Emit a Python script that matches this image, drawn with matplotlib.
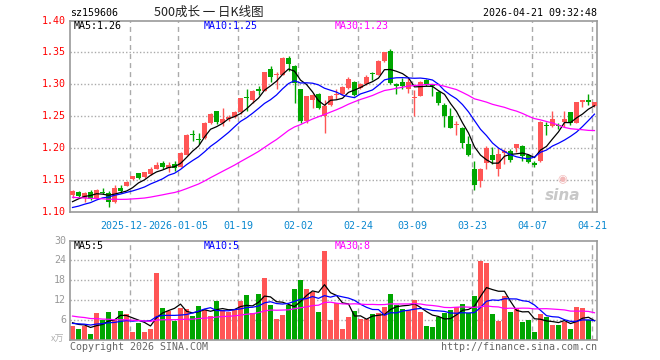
import numpy as np
import pandas as pd
import matplotlib
matplotlib.use('Agg')
import matplotlib.pyplot as plt

# trading days shown (holidays removed)
holidays = ['2026-01-01', '2026-01-02', '2026-02-16', '2026-02-17', '2026-02-18',
            '2026-02-19', '2026-02-20', '2026-02-23', '2026-04-06']
dates = pd.bdate_range('2025-12-08', '2026-04-21')
dates = dates[~dates.isin(pd.to_datetime(holidays))]

tick_dates = ['2025-12-22', '2026-01-05', '2026-01-19', '2026-02-02', '2026-02-24',
              '2026-03-09', '2026-03-23', '2026-04-07', '2026-04-21']
tick_labels = ['2025-12-22', '2026-01-05', '01-19', '02-02', '02-24',
               '03-09', '03-23', '04-07', '04-21']

opens = [1.126, 1.132, 1.122, 1.132, 1.122, 1.131, 1.129, 1.115, 1.137, 1.141,
         1.151, 1.161, 1.155, 1.159, 1.168, 1.176, 1.169, 1.175, 1.171, 1.190,
         1.221, 1.214, 1.216, 1.239, 1.259, 1.240, 1.245, 1.249, 1.256, 1.279,
         1.276, 1.293, 1.290, 1.324, 1.314, 1.315, 1.342, 1.329, 1.292, 1.242,
         1.276, 1.285, 1.251, 1.268, 1.284, 1.285, 1.294, 1.304, 1.294, 1.300,
         1.317, 1.315, 1.336, 1.352, 1.301, 1.304, 1.292, 1.278, 1.282, 1.307,
         1.298, 1.288, 1.268, 1.251, 1.237, 1.232, 1.207, 1.168, 1.149, 1.176,
         1.190, 1.167, 1.193, 1.196, 1.200, 1.204, 1.190, 1.177, 1.180, 1.236,
         1.234, 1.235, 1.241, 1.256, 1.240, 1.272, 1.276, 1.266]
closes = [1.133, 1.125, 1.129, 1.121, 1.135, 1.130, 1.116, 1.138, 1.133, 1.147,
          1.156, 1.154, 1.162, 1.168, 1.174, 1.171, 1.173, 1.169, 1.193, 1.221,
          1.220, 1.213, 1.240, 1.254, 1.241, 1.246, 1.249, 1.257, 1.278, 1.278,
          1.290, 1.289, 1.319, 1.312, 1.315, 1.342, 1.332, 1.302, 1.242, 1.281,
          1.284, 1.263, 1.266, 1.281, 1.285, 1.296, 1.309, 1.284, 1.301, 1.311,
          1.316, 1.337, 1.350, 1.302, 1.297, 1.298, 1.304, 1.279, 1.304, 1.300,
          1.297, 1.270, 1.251, 1.232, 1.238, 1.208, 1.190, 1.142, 1.168, 1.201,
          1.181, 1.191, 1.196, 1.182, 1.206, 1.187, 1.178, 1.173, 1.241, 1.235,
          1.245, 1.234, 1.246, 1.240, 1.272, 1.275, 1.273, 1.272]
highs = [1.135, 1.133, 1.131, 1.135, 1.136, 1.138, 1.133, 1.143, 1.142, 1.148,
         1.157, 1.161, 1.163, 1.170, 1.178, 1.180, 1.178, 1.180, 1.194, 1.222,
         1.228, 1.224, 1.241, 1.255, 1.259, 1.263, 1.252, 1.259, 1.279, 1.293,
         1.291, 1.298, 1.320, 1.328, 1.320, 1.343, 1.345, 1.330, 1.293, 1.282,
         1.285, 1.286, 1.276, 1.283, 1.292, 1.297, 1.312, 1.305, 1.302, 1.315,
         1.319, 1.338, 1.351, 1.355, 1.302, 1.310, 1.310, 1.291, 1.305, 1.309,
         1.301, 1.290, 1.270, 1.263, 1.243, 1.233, 1.219, 1.180, 1.169, 1.203,
         1.202, 1.200, 1.199, 1.199, 1.207, 1.205, 1.191, 1.180, 1.242, 1.241,
         1.258, 1.240, 1.258, 1.257, 1.273, 1.276, 1.285, 1.273]
lows = [1.122, 1.124, 1.116, 1.119, 1.121, 1.128, 1.108, 1.114, 1.130, 1.140,
        1.150, 1.152, 1.154, 1.158, 1.167, 1.167, 1.163, 1.165, 1.170, 1.189,
        1.212, 1.207, 1.215, 1.238, 1.238, 1.234, 1.243, 1.247, 1.254, 1.258,
        1.270, 1.284, 1.289, 1.303, 1.293, 1.314, 1.321, 1.270, 1.240, 1.240,
        1.263, 1.262, 1.223, 1.266, 1.277, 1.284, 1.293, 1.282, 1.292, 1.299,
        1.307, 1.314, 1.335, 1.300, 1.285, 1.292, 1.286, 1.250, 1.281, 1.298,
        1.282, 1.268, 1.233, 1.231, 1.221, 1.200, 1.187, 1.134, 1.139, 1.167,
        1.175, 1.156, 1.175, 1.178, 1.194, 1.180, 1.176, 1.170, 1.179, 1.220,
        1.233, 1.230, 1.233, 1.237, 1.239, 1.265, 1.267, 1.265]
volumes = [4.2, 3.3, 4.2, 1.8, 8.1, 6.0, 8.4, 6.0, 8.7, 7.8,
           2.5, 5.0, 2.5, 3.3, 20.2, 9.7, 8.7, 5.8, 9.7, 9.4,
           7.3, 10.3, 9.0, 7.3, 11.8, 9.0, 8.5, 9.3, 11.8, 13.6,
           8.2, 13.9, 18.7, 10.6, 6.3, 7.5, 10.6, 15.4, 18.1, 15.4,
           14.5, 8.5, 26.9, 6.0, 11.3, 3.3, 6.9, 8.6, 6.3, 6.3,
           7.9, 8.2, 9.8, 13.8, 10.5, 9.2, 9.0, 12.0, 8.4, 4.2,
           3.9, 7.0, 8.2, 9.0, 9.8, 10.8, 8.2, 13.2, 23.7, 23.1,
           7.8, 5.7, 13.2, 8.5, 9.5, 5.5, 6.0, 2.5, 7.8, 7.0,
           4.5, 4.5, 5.5, 3.3, 9.9, 9.6, 6.0, 0.3]

# 29 sessions before the first visible day, estimated from where the MA lines start
hist_close = [1.145, 1.142, 1.138, 1.141, 1.144, 1.139, 1.136, 1.140, 1.143, 1.138,
              1.135, 1.139, 1.125, 1.121, 1.118, 1.115, 1.117, 1.114, 1.119, 1.111,
              1.104, 1.099, 1.096, 1.094, 1.097, 1.103, 1.110, 1.114, 1.121]
hist_vol = [11.2, 9.5, 10.8, 8.9, 10.4, 9.7, 10.6, 8.9, 7.5, 6.8,
            7.9, 6.5, 7.2, 8.1, 6.9, 7.4, 6.6, 7.7, 6.8, 7.0,
            4.6, 5.2, 4.4, 5.1, 4.7, 5.8, 5.0, 5.6, 5.4]

ma_windows = [5, 10, 30]
ma_colors = ['black', '#0000ff', '#ff00ff']
price_ma_text = ['MA5:1.26', 'MA10:1.25', 'MA30:1.23']
vol_ma_text = ['MA5:5', 'MA10:5', 'MA30:8']

RED = '#ff5555'
GREEN = '#00a600'
GRID = '#aaaaaa'
MONO = 'DejaVu Sans Mono'

o = np.array(opens); c = np.array(closes)
h = np.array(highs); l = np.array(lows); v = np.array(volumes)
n = len(c)
x = np.arange(n)
up = c >= o
cols = np.where(up, RED, GREEN)
nh = len(hist_close)

def ma(hist, vals, w):
    s = pd.Series(np.r_[hist, vals]).rolling(w).mean().to_numpy()
    return s[nh:]

date_str = [d.strftime('%Y-%m-%d') for d in dates]
tick_pos = np.array([date_str.index(d) for d in tick_dates]) - 0.4

W, H = 660, 360
fig = plt.figure(figsize=(W / 100, H / 100), dpi=100)
fig.patch.set_facecolor('white')

def box(x0, y0, x1, y1):
    return [x0 / W, 1 - y1 / H, (x1 - x0) / W, (y1 - y0) / H]

def fxy(px, py):
    return px / W, 1 - py / H

ax = fig.add_axes(box(70, 20.5, 597, 212))
axv = fig.add_axes(box(70, 240.5, 597, 340))

for a in (ax, axv):
    a.set_xlim(-0.42, n - 0.58)
    for s in a.spines.values():
        s.set_color('#999999')
        s.set_linewidth(1.2)
    a.tick_params(length=0)
    a.set_xticks([])
    a.set_yticks([])
    for t in tick_pos:
        a.axvline(t, color=GRID, lw=1, dashes=(3.6, 2.9), zorder=0)

# price panel
ax.set_ylim(1.10, 1.40)
for yv in [1.15, 1.20, 1.25, 1.30, 1.35]:
    ax.axhline(yv, color=GRID, lw=1, dashes=(1, 1.5), zorder=0)
ax.vlines(x, l, h, colors=cols, lw=1, zorder=2)
body = np.maximum(np.abs(c - o), 0.0016)
ax.bar(x, body, bottom=np.minimum(o, c), width=0.82, color=cols, lw=0, zorder=3)
for w, col in zip(ma_windows, ma_colors):
    ax.plot(x, ma(hist_close, c, w), color=col, lw=0.9, zorder=4)

for yv in [1.10, 1.15, 1.20, 1.25, 1.30, 1.35, 1.40]:
    fx, fy = fxy(66, 0)
    fig.text(fx, ax.transData.transform((0, yv))[1] / H - 0.0, f'{yv:.2f}', color='#ff0000',
             ha='right', va='center', family=MONO, fontsize=7.2)

for t, lab in zip(tick_pos, tick_labels):
    ax.annotate(lab, xy=(t, 1.10), xycoords='data', xytext=(0, -10), textcoords='offset points',
                ha='center', va='center', color='#0a88d0', family=MONO, fontsize=7.2,
                bbox=dict(facecolor='white', edgecolor='none', pad=0.3), annotation_clip=False)

ax.text(0.935, 0.085, 'sina', transform=ax.transAxes, ha='center', va='center',
        color='#c8c8c8', fontsize=11, fontweight='bold', style='italic', zorder=1)
ax.text(0.935, 0.17, '◉', transform=ax.transAxes, ha='center', va='center',
        color='#f2b8b8', fontsize=8, zorder=1)

# volume panel
axv.set_ylim(0, 30)
for yv in [6, 12, 18, 24]:
    axv.axhline(yv, color=GRID, lw=1, dashes=(1, 1.5), zorder=0)
axv.bar(x, v, width=0.82, color=cols, lw=0, zorder=2)
for w, col in zip(ma_windows, ma_colors):
    axv.plot(x, ma(hist_vol, v, w), color=col, lw=0.9, zorder=3)
for yv in [6, 12, 18, 24, 30]:
    fig.text(66 / W, axv.transData.transform((0, yv))[1] / H, str(yv), color='#999999',
             ha='right', va='center', family=MONO, fontsize=7.2)
fig.text(64 / W, 1 - 339 / H, 'x万', color='#b0b0b0', ha='right', va='center',
         family=['Noto Sans CJK SC', 'DejaVu Sans'], fontsize=6.5)

# legends
for px, lab, col in zip([74, 204, 335], price_ma_text, ma_colors):
    fig.text(px / W, 1 - 26 / H, lab, color=col, ha='left', va='center', family=MONO, fontsize=7.2)
for px, lab, col in zip([74, 204, 335], vol_ma_text, ma_colors):
    fig.text(px / W, 1 - 246 / H, lab, color=col, ha='left', va='center', family=MONO, fontsize=7.2)

# header / footer
fig.text(70 / W, 1 - 13 / H, 'sz159606', color='black', ha='left', va='center', family=MONO, fontsize=7.2)
fig.text(209 / W, 1 - 12 / H, '500成长 一 日K线图', color='#222222', ha='center', va='center',
         family=['Noto Sans CJK SC', 'DejaVu Sans'], fontsize=9)
fig.text(597 / W, 1 - 13 / H, '2026-04-21 09:32:48', color='black', ha='right', va='center',
         family=MONO, fontsize=7.2)
fig.text(70 / W, 1 - 347 / H, 'Copyright 2026 SINA.COM', color='#666666', ha='left', va='center',
         family=MONO, fontsize=7.2)
fig.text(597 / W, 1 - 347 / H, 'http://finance.sina.com.cn', color='#666666', ha='right', va='center',
         family=MONO, fontsize=7.2)

fig.savefig('out.png', dpi=100, facecolor='white')
